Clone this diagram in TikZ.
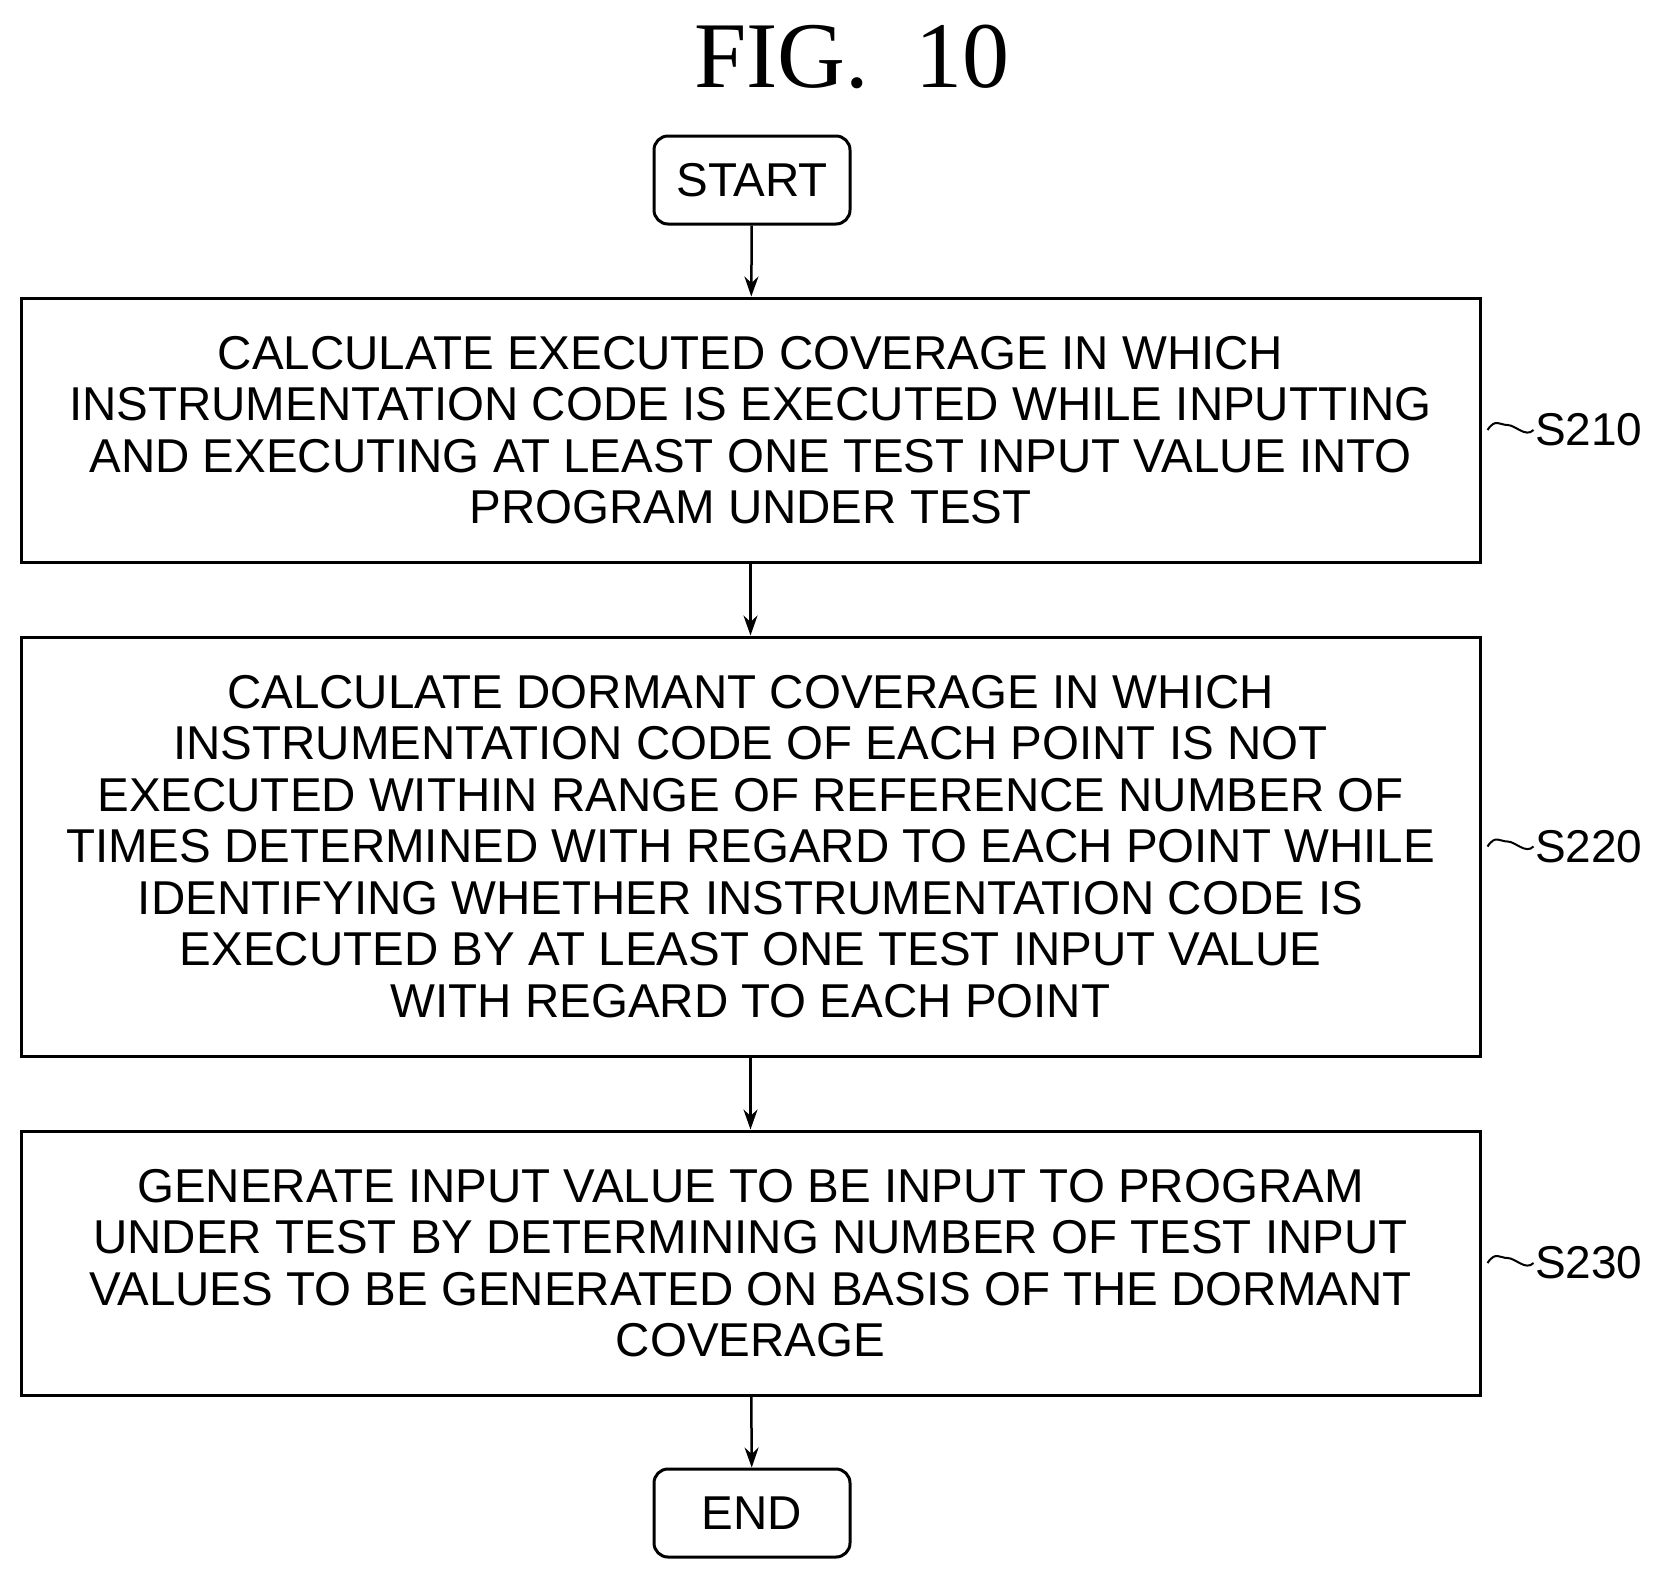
\documentclass[tikz,border=0pt]{standalone}
\usetikzlibrary{arrows.meta}
\usepackage{fontspec}
\setmainfont{Liberation Sans}
\begin{document}
\begin{tikzpicture}[x=1pt,y=-1pt,
  box/.style={draw,line width=3pt,align=center,inner sep=0pt},
  term/.style={draw,line width=3pt,rounded corners=14pt,align=center,inner sep=0pt},
  arr/.style={line width=2.5pt,-{Stealth[length=20pt,width=14pt]}},
  txt/.style={font=\fontsize{47.5}{51.5}\selectfont},
  lab/.style={font=\fontsize{46}{50}\selectfont,anchor=west}]
\useasboundingbox (0,0) rectangle (1662,1572);
\node[font=\fontsize{94}{96}\selectfont\setmainfont{Liberation Serif}] (title) at (852,57) {FIG.\ \ 10};
\node[term,minimum width=196pt,minimum height=88pt,txt] (start) at (752,180) {START};
\node[box,minimum width=1459pt,minimum height=264pt,txt] (b1) at (750.5,430) {CALCULATE EXECUTED COVERAGE IN WHICH\\INSTRUMENTATION CODE IS EXECUTED WHILE INPUTTING\\AND EXECUTING AT LEAST ONE TEST INPUT VALUE INTO\\PROGRAM UNDER TEST};
\node[box,minimum width=1459pt,minimum height=419pt,txt] (b2) at (750.5,846.5) {CALCULATE DORMANT COVERAGE IN WHICH\\INSTRUMENTATION CODE OF EACH POINT IS NOT\\EXECUTED WITHIN RANGE OF REFERENCE NUMBER OF\\TIMES DETERMINED WITH REGARD TO EACH POINT WHILE\\IDENTIFYING WHETHER INSTRUMENTATION CODE IS\\EXECUTED BY AT LEAST ONE TEST INPUT VALUE\\WITH REGARD TO EACH POINT};
\node[box,minimum width=1459pt,minimum height=264pt,txt] (b3) at (750.5,1263) {GENERATE INPUT VALUE TO BE INPUT TO PROGRAM\\UNDER TEST BY DETERMINING NUMBER OF TEST INPUT\\VALUES TO BE GENERATED ON BASIS OF THE DORMANT\\COVERAGE};
\node[term,minimum width=196pt,minimum height=88pt,txt] (end) at (752,1513) {END};
\draw[arr] (start) -- (b1);
\draw[arr] (b1) -- (b2);
\draw[arr] (b2) -- (b3);
\draw[arr] (b3) -- (end);
\foreach \b/\s in {b1/S210,b2/S220,b3/S230}{
  \node[lab] (l\s) at ([xshift=50pt]\b.east) {\s};
  \draw[line width=2pt] ([xshift=6pt]\b.east) .. controls +(8,-12) and +(-8,0) .. +(20,-5) .. controls +(8,0) and +(-8,8) .. ([xshift=2pt]l\s.west);
}
\end{tikzpicture}
\end{document}
